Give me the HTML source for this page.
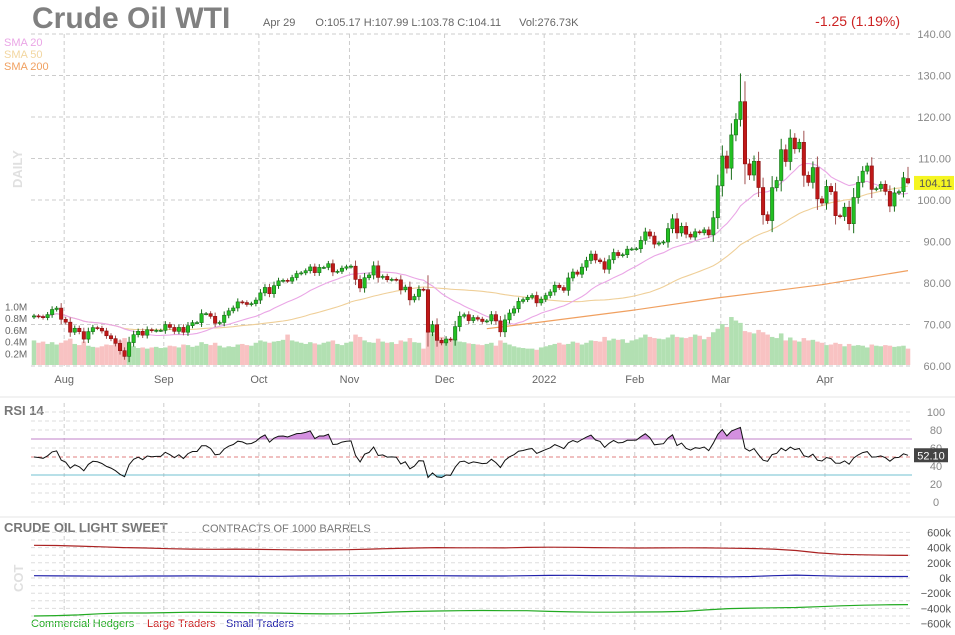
<!DOCTYPE html>
<html><head><meta charset="utf-8">
<style>
html,body{margin:0;padding:0;background:#fff;}
svg{display:block;font-family:"Liberation Sans",sans-serif;}
</style></head>
<body>
<svg id="chart" width="955" height="635" viewBox="0 0 955 635" xmlns="http://www.w3.org/2000/svg">
<text x="32" y="28" font-size="30" font-weight="bold" fill="#808080">Crude Oil WTI</text>
<text x="263" y="26" font-size="11" fill="#666">Apr 29<tspan dx="20">O:105.17 H:107.99 L:103.78 C:104.11</tspan><tspan dx="18">Vol:276.73K</tspan></text>
<text x="900" y="26" font-size="14" fill="#cc2222" text-anchor="end">-1.25 (1.19%)</text>
<text x="4" y="46" font-size="11" fill="#eaa6e6">SMA 20</text>
<text x="4" y="58" font-size="11" fill="#f2d6a0">SMA 50</text>
<text x="4" y="70" font-size="11" fill="#f0a060">SMA 200</text>
<text transform="translate(22,188) rotate(-90)" font-size="13" font-weight="bold" fill="#e0e0e0">DAILY</text>
<text x="4" y="415" font-size="13" font-weight="bold" fill="#777">RSI 14</text>
<text x="4" y="532" font-size="13" font-weight="bold" fill="#777">CRUDE OIL LIGHT SWEET</text>
<text x="202" y="532" font-size="11" fill="#777">CONTRACTS OF 1000 BARRELS</text>
<text transform="translate(23,592) rotate(-90)" font-size="13" font-weight="bold" fill="#e0e0e0">COT</text>
<text x="31" y="627" font-size="11" fill="#22aa22">Commercial Hedgers</text>
<text x="147" y="627" font-size="11" fill="#cc2222">Large Traders</text>
<text x="226" y="627" font-size="11" fill="#2222aa">Small Traders</text>
<line x1="0" y1="397" x2="955" y2="397" stroke="#e6e6e6"/>
<line x1="0" y1="517" x2="955" y2="517" stroke="#e6e6e6"/>
<g id="g"></g>
</svg>
<script>
const closes=[72.07,71.91,71.65,72.39,73.62,73.95,
71.26,70.56,68.15,69.09,68.28,66.48,68.29,69.25,69.09,68.44,67.29,66.59,65.46,63.69,62.32,65.64,67.54,68.36,67.42,68.74,68.50,68.59,
68.59,69.99,69.29,68.35,69.30,68.14,69.72,70.45,70.46,72.61,72.61,71.97,70.29,70.49,72.23,73.30,73.98,75.45,75.29,74.83,75.03,
75.88,77.62,78.93,77.43,79.35,80.52,80.64,80.44,81.31,82.28,82.44,82.96,83.87,82.50,83.76,83.76,84.65,82.66,82.81,83.57,
83.91,84.05,80.86,78.81,81.27,81.93,84.15,81.34,81.59,80.79,80.88,80.76,78.36,79.01,75.94,76.75,78.50,78.39,68.15,69.95,66.18,
65.57,66.50,66.26,69.49,71.99,72.36,70.94,71.67,71.29,70.73,70.87,72.38,70.86,68.23,71.12,72.76,73.79,75.57,75.98,76.56,76.99,75.21,
76.08,76.99,77.85,79.46,78.90,78.23,81.22,82.64,82.12,83.82,85.43,86.96,85.55,85.14,83.31,85.60,87.35,86.61,86.82,88.15,
88.20,88.26,90.27,92.31,91.32,89.36,89.66,89.88,93.10,95.46,92.07,93.66,91.76,91.07,92.35,92.10,92.81,91.59,95.72,
103.41,110.60,107.67,115.68,119.40,123.70,108.70,106.02,109.33,103.01,96.44,95.04,102.98,104.70,112.12,109.27,114.93,112.34,113.90,105.96,104.24,107.82,100.28,
99.27,103.28,102.00,96.23,96.03,98.26,94.29,100.60,104.25,106.95,108.21,102.56,102.75,103.79,102.07,98.54,101.70,102.02,105.36,104.11];
const volumes=[420,380,400,360,390,350,
380,420,450,360,340,400,330,310,300,320,350,340,380,420,460,400,320,290,300,280,300,310,
290,300,330,320,300,350,340,310,330,390,360,340,380,330,300,320,310,350,360,340,330,
380,420,400,380,400,410,430,520,420,400,380,360,390,370,350,380,400,420,360,340,
380,400,520,480,420,390,380,450,400,380,390,360,420,400,460,390,380,280,600,540,560,
480,430,420,440,400,390,370,360,350,340,360,380,330,420,380,350,320,300,290,280,280,260,
300,320,340,360,380,350,360,400,380,350,380,420,410,400,480,420,450,430,440,380,
420,440,470,520,480,460,450,440,470,520,480,470,460,480,520,500,440,480,560,
620,700,650,820,760,720,580,560,540,600,560,520,480,460,540,420,470,420,400,460,420,430,400,
380,340,350,380,360,320,360,330,340,330,300,350,330,320,340,330,310,320,330,280];
const sma200Idx=[100,112,132,151,174,193];
const sma200Vals=[69.0,70.6,73.4,76.4,79.6,83];
const monthLabels=["Aug","Sep","Oct","Nov","Dec","2022","Feb","Mar","Apr"];
const monthIdx=[6,28,49,69,90,112,132,151,174];
const priceTicks=[140,130,120,110,100,90,80,70,60];
const volTicks=["1.0M","0.8M","0.6M","0.4M","0.2M"];
const volTickVals=[1000,800,600,400,200];
const rsiTicks=[100,80,60,40,20,0];
const cotTickVals=[600,400,200,0,-200,-400,-600];
const cotTicks=["600k","400k","200k","0k","−200k","−400k","−600k"];
const cotLarge=[430,428,420,410,400,395,385,380,378,380,376,372,368,370,372,380,388,395,400,398,398,396,402,405,404,400,398,395,396,398,396,392,388,380,362,330,312,305,300,298];
const cotSmall=[30,28,26,24,24,26,26,28,26,24,22,22,26,28,30,30,32,32,30,28,26,26,30,34,36,32,30,26,24,20,18,16,20,30,38,30,24,22,20,20];
const cotComm=[-500,-495,-485,-470,-460,-460,-455,-450,-452,-455,-458,-462,-468,-472,-470,-460,-448,-440,-434,-430,-428,-430,-430,-440,-446,-450,-450,-448,-446,-440,-420,-402,-396,-392,-388,-378,-366,-358,-352,-350];

const NS="http://www.w3.org/2000/svg";
const G=document.getElementById('g');
function mk(tag,attrs,parent){const e=document.createElementNS(NS,tag);for(const k in attrs)e.setAttribute(k,attrs[k]);(parent||G).appendChild(e);return e;}
const X0=34,X1=908,PL=31,PR=912;
const n=closes.length;
const xOf=i=>X0+(X1-X0)*i/(n-1);
const yP=p=>34+(140-p)*4.15;
const yV=v=>365-v*0.0585;
const yR=v=>502-0.9*v;
const yC=v=>578-v*0.076;
const xW=i=>X0+(X1-X0)*i/(cotLarge.length-1);

for(const p of priceTicks){
  const gl=mk('line',{x1:PL,x2:PR,y1:yP(p),y2:yP(p),stroke:'#ccc','stroke-dasharray':'4,3'});
  
  
  const t=mk('text',{x:951,y:yP(p)+4,'font-size':11,fill:'#888','text-anchor':'end'});
  t.textContent=p.toFixed(2);
  
  
}
for(let v=0;v<=100;v+=10){
  const gl=mk('line',{x1:PL,x2:PR,y1:yR(v),y2:yR(v),stroke:'#ddd','stroke-dasharray':'4,3'});
  
  
}
for(const v of rsiTicks){
  const t=mk('text',{x:936,y:yR(v)+4,'font-size':11,fill:'#888','text-anchor':'middle'});
  t.textContent=v;
  
  
}
for(let v=-600;v<=600;v+=100){
  const gl=mk('line',{x1:PL,x2:PR,y1:yC(v),y2:yC(v),stroke:'#ddd','stroke-dasharray':'4,3'});
  
  
}
cotTickVals.forEach((v,k)=>{
  const t=mk('text',{x:951,y:yC(v)+4,'font-size':11,fill:'#555','text-anchor':'end'});
  t.textContent=cotTicks[k];
  
  
});
monthIdx.forEach((idx,k)=>{
  const x=xOf(idx)+3;
  [[34,366],[403,505],[522,630]].forEach(r=>{
    const gl=mk('line',{x1:x,x2:x,y1:r[0],y2:r[1],stroke:'#ccc','stroke-dasharray':'4,3'});
    
    
  });
  const t=mk('text',{x:x,y:383,'font-size':11,fill:'#666','text-anchor':'middle'});
  t.textContent=monthLabels[k];
  
  
});
volTickVals.forEach((v,k)=>{
  const t=mk('text',{x:5,y:yV(v)+4,'font-size':10,fill:'#666'});
  t.textContent=volTicks[k];
  
  
});

const opens=closes.map((c,i)=>i===0?71.8:(i===n-1?105.17:closes[i-1]));
const bw=(X1-X0)/(n-1);
volumes.forEach((v,i)=>{
  const up=closes[i]>=opens[i];
  const r=mk('rect',{x:xOf(i)-bw/2,y:yV(v),width:bw,height:365-yV(v),fill:up?'#b2e0b2':'#f8c2c2'});
  
  
});

function sma(len){return closes.map((c,i)=>{const s=Math.max(0,i-len+1);let t=0;for(let j=s;j<=i;j++)t+=closes[j];return t/(i-s+1);});}
function poly(vals,color,name){
  const pts=vals.map((v,i)=>xOf(i).toFixed(1)+','+yP(v).toFixed(1)).join(' ');
  const p=mk('polyline',{points:pts,fill:'none',stroke:color,'stroke-width':1.1});
  
  
}
const s200=mk('polyline',{points:sma200Idx.map((idx,k)=>xOf(idx).toFixed(1)+','+yP(sma200Vals[k]).toFixed(1)).join(' '),fill:'none',stroke:'#f0a060','stroke-width':1.2});


poly(sma(50),'#efcf98','sma50-line');
poly(sma(20),'#eaa6e6','sma20-line');

closes.forEach((c,i)=>{
  const o=opens[i];const up=c>=o;
  const rng=Math.abs(c-o);
  let h=Math.max(o,c)+0.4+rng*0.3, l=Math.min(o,c)-0.4-rng*0.3;
  if(i===n-1){h=107.99;l=103.78;}
  if(i===156){h=130.5;}
  const x=xOf(i);
  const w=mk('line',{x1:x,x2:x,y1:yP(h),y2:yP(l),stroke:up?'#1a6e1a':'#a05050','stroke-width':1});
  
  
  const top=yP(Math.max(o,c)),bot=yP(Math.min(o,c));
  const b=mk('rect',{x:x-1.7,y:top,width:3.4,height:Math.max(1,bot-top),fill:up?'#22c022':'#c01818',stroke:up?'#1a6e1a':'#8a1010','stroke-width':0.6});
  
  
});
const lp=mk('rect',{x:914,y:yP(104.11)-7,width:40,height:14,fill:'#f5f522'});


const lpt=mk('text',{x:952,y:yP(104.11)+4,'font-size':11,fill:'#555','text-anchor':'end'});
lpt.textContent='104.11';



const rsi=[];let ag=0.55,al=0.55;
closes.forEach((c,i)=>{if(i>0){const d=c-closes[i-1];ag=(ag*13+Math.max(d,0))/14;al=(al*13+Math.max(-d,0))/14;}rsi.push(100-100/(1+ag/al));});
const cl70=mk('clipPath',{id:'c70'});mk('rect',{x:0,y:0,width:955,height:yR(70)},cl70);
const cl30=mk('clipPath',{id:'c30'});mk('rect',{x:0,y:yR(30),width:955,height:50},cl30);
const rp=rsi.map((v,i)=>xOf(i).toFixed(1)+','+yR(v).toFixed(1));
const f70=mk('polygon',{points:xOf(0)+','+yR(70)+' '+rp.join(' ')+' '+xOf(n-1)+','+yR(70),fill:'#d490e0','clip-path':'url(#c70)'});


const f30=mk('polygon',{points:xOf(0)+','+yR(30)+' '+rp.join(' ')+' '+xOf(n-1)+','+yR(30),fill:'#80c8d8','clip-path':'url(#c30)'});


[[70,'#c080c8',''],[50,'#e08080','4,3'],[30,'#70c0d0','']].forEach(a=>{
  const l=mk('line',{x1:PL,x2:PR,y1:yR(a[0]),y2:yR(a[0]),stroke:a[1],'stroke-dasharray':a[2]});
  
  
});
const rl=mk('polyline',{points:rp.join(' '),fill:'none',stroke:'#111','stroke-width':1});


const rb=mk('rect',{x:914,y:yR(rsi[n-1])-7,width:34,height:14,fill:'#444'});


const rt=mk('text',{x:931,y:yR(rsi[n-1])+4,'font-size':11,fill:'#fff','text-anchor':'middle'});
rt.textContent='52.10';



[[cotLarge,'#aa2222','cot-large-traders-line'],[cotSmall,'#2222aa','cot-small-traders-line'],[cotComm,'#22aa22','cot-commercial-line']].forEach(a=>{
  const p=mk('polyline',{points:a[0].map((v,i)=>xW(i).toFixed(1)+','+yC(v).toFixed(1)).join(' '),fill:'none',stroke:a[1],'stroke-width':1.2});
  
  
});
</script>
</body></html>
